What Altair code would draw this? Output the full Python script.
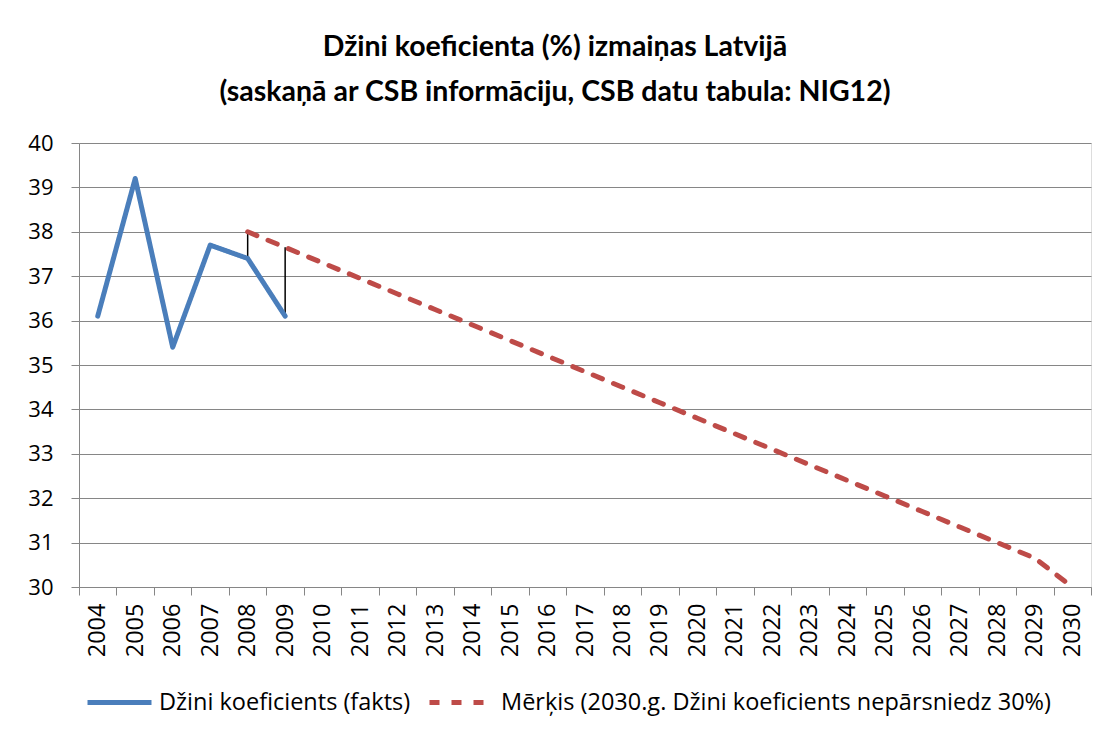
import altair as alt
import pandas as pd

years = [str(y) for y in range(2004, 2031)]

fact_years = ["2004", "2005", "2006", "2007", "2008", "2009"]
fact_values = [36.1, 39.2, 35.4, 37.7, 37.4, 36.1]

target_years = [str(y) for y in range(2008, 2031)]
target_values = [38.0, 37.65, 37.3, 36.95, 36.6, 36.25, 35.9, 35.55, 35.2, 34.85,
                 34.5, 34.15, 33.8, 33.45, 33.1, 32.75, 32.4, 32.05, 31.7, 31.35,
                 31.0, 30.65, 30.0]

series_names = ["Džini koeficients (fakts)",
                "Mērķis (2030.g. Džini koeficients nepārsniedz 30%)"]
series_colors = ["#4A7EBB", "#BE4B48"]
series_dash = [[1, 0], [10, 12]]

title_lines = ["Džini koeficienta (%) izmaiņas Latvijā",
               "(saskaņā ar CSB informāciju, CSB datu tabula: NIG12)"]

rows = []
for y, v in zip(fact_years, fact_values):
    rows.append({"year": y, "value": v, "series": series_names[0]})
for y, v in zip(target_years, target_values):
    rows.append({"year": y, "value": v, "series": series_names[1]})
df = pd.DataFrame(rows)

# high-low lines where both series exist
fact_map = dict(zip(fact_years, fact_values))
target_map = dict(zip(target_years, target_values))
hl = pd.DataFrame([{"year": y, "low": min(fact_map[y], target_map[y]),
                    "high": max(fact_map[y], target_map[y])}
                   for y in fact_years if y in target_map])

TFONT = "Lato"
FONT = "Open Sans"
GRID = "#868686"

x_scale = alt.Scale(type="band", domain=years, paddingInner=0, paddingOuter=0)

x_enc = alt.X("year:O",
              sort=years,
              scale=x_scale,
              bandPosition=0.5,
              axis=alt.Axis(title=None, labelAngle=-90, tickBand="extent",
                            labelFont=FONT, labelFontSize=23.5, labelColor="#000000",
                            domainColor=GRID, tickColor=GRID, tickSize=8,
                            labelPadding=8, grid=False))

y_scale = alt.Scale(domain=[30, 40], nice=False, zero=False)
y_axis = alt.Axis(title=None, values=list(range(30, 41)), grid=True, gridColor=GRID,
                  gridWidth=1, labelFont=FONT, labelFontSize=22, labelColor="#000000",
                  domainColor=GRID, tickColor=GRID, tickSize=8, labelPadding=18)

lines = alt.Chart(df).mark_line(strokeWidth=5, strokeJoin="round", strokeCap="round").encode(
    x=x_enc,
    y=alt.Y("value:Q", scale=y_scale, axis=y_axis),
    color=alt.Color("series:N", sort=series_names,
                    scale=alt.Scale(domain=series_names, range=series_colors),
                    legend=alt.Legend(title=None, orient="none", legendX=6, legendY=525,
                                      direction="horizontal", symbolType="stroke",
                                      symbolSize=4096, symbolStrokeWidth=5,
                                      labelFont=FONT, labelFontSize=23.5, labelColor="#000000",
                                      labelOffset=5, columnPadding=8, padding=0,
                                      labelLimit=1000)),
    strokeDash=alt.StrokeDash("series:N", sort=series_names,
                              scale=alt.Scale(domain=series_names, range=series_dash),
                              legend=None),
)

rules = alt.Chart(hl).mark_rule(color="#000000", strokeWidth=1.5).encode(
    x=alt.X("year:O", sort=years, scale=x_scale, bandPosition=0.5),
    y=alt.Y("low:Q", scale=y_scale),
    y2="high:Q",
)

chart = alt.layer(rules, lines).properties(
    width=1012,
    height=444,
    title=alt.TitleParams(text=title_lines, font=TFONT, fontSize=28.5, fontWeight="bold",
                          color="#000000", anchor="middle", dx=-30, offset=26,
                          lineHeight=45),
    autosize=alt.AutoSizeParams(type="none"),
    padding={"left": 71, "top": 135, "right": 9, "bottom": 130},
).configure_view(stroke=None).configure(background="#ffffff")

chart.save("out.html", embed_options={"renderer": "svg", "actions": False})
